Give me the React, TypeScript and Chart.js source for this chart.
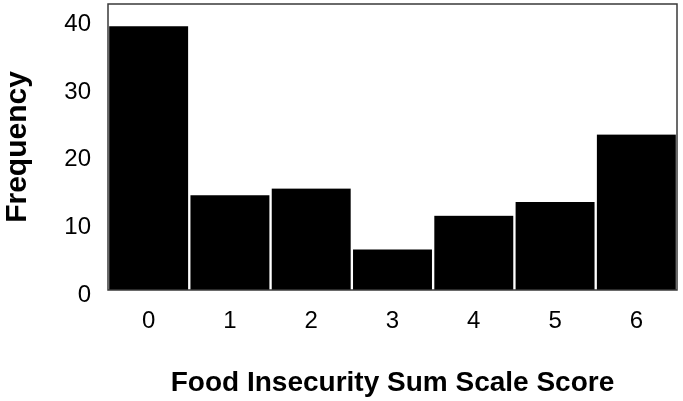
import React, { useEffect, useRef } from "react";
import { Chart, registerables } from "chart.js";

Chart.register(...registerables);

const categories = ["0", "1", "2", "3", "4", "5", "6"];
const frequencies = [39, 14, 15, 6, 11, 13, 23];
const xTitle = "Food Insecurity Sum Scale Score";
const yTitle = "Frequency";

const FONT = "'Liberation Sans', Arial, Helvetica, sans-serif";

const framePlugin = {
  id: "frame",
  afterDatasetsDraw(chart: any) {
    const { ctx, chartArea } = chart;
    ctx.save();
    ctx.strokeStyle = "#3a3a3a";
    ctx.lineWidth = 1.5;
    ctx.strokeRect(chartArea.left, chartArea.top, chartArea.right - chartArea.left, chartArea.bottom - chartArea.top);
    ctx.restore();
  },
};

export default function App() {
  const ref = useRef<HTMLCanvasElement | null>(null);
  useEffect(() => {
    document.body.style.margin = "0";
    const canvas = ref.current!;
    const chart = new Chart(canvas, {
      type: "bar",
      data: {
        labels: categories,
        datasets: [
          {
            data: frequencies,
            backgroundColor: "#000000",
            borderColor: "#ffffff",
            borderWidth: { left: 1.5, right: 1.5, top: 0, bottom: 0 },
            borderSkipped: false,
            barPercentage: 1,
            categoryPercentage: 1,
          },
        ],
      },
      options: {
        animation: false,
        responsive: false,
        devicePixelRatio: 1,
        layout: { padding: { top: 4, right: 6, left: 0, bottom: 0 } },
        plugins: { legend: { display: false }, tooltip: { enabled: false } },
        scales: {
          x: {
            grid: { display: false, drawTicks: false },
            border: { display: false },
            ticks: { color: "#000", font: { family: FONT, size: 24 }, padding: 17 },
            title: {
              display: true,
              text: xTitle,
              color: "#000",
              font: { family: FONT, size: 28, weight: "bold" },
              padding: { top: 0, bottom: 1 },
            },
            afterFit(scale: any) {
              scale.height = 111;
              scale.paddingLeft = 0;
              scale.paddingRight = 0;
            },
          },
          y: {
            min: 0,
            max: 42.3,
            grid: { display: false, drawTicks: false },
            border: { display: false },
            ticks: {
              stepSize: 10,
              includeBounds: false,
              color: "#000",
              font: { family: FONT, size: 24 },
              padding: 17,
              labelOffset: 5,
            },
            title: {
              display: true,
              text: yTitle,
              color: "#000",
              font: { family: FONT, size: 30, weight: "bold" },
              padding: { top: 0, bottom: 0 },
            },
            afterFit(scale: any) {
              scale.width = 108;
              scale.paddingTop = 0;
              scale.paddingBottom = 0;
            },
          },
        },
      },
      plugins: [framePlugin],
    });
    return () => chart.destroy();
  }, []);
  return (
    <div style={{ position: "absolute", left: 0, top: 0, width: 683, height: 401, background: "#fff" }}>
      <canvas ref={ref} width={683} height={401} style={{ width: 683, height: 401, display: "block" }} />
    </div>
  );
}
